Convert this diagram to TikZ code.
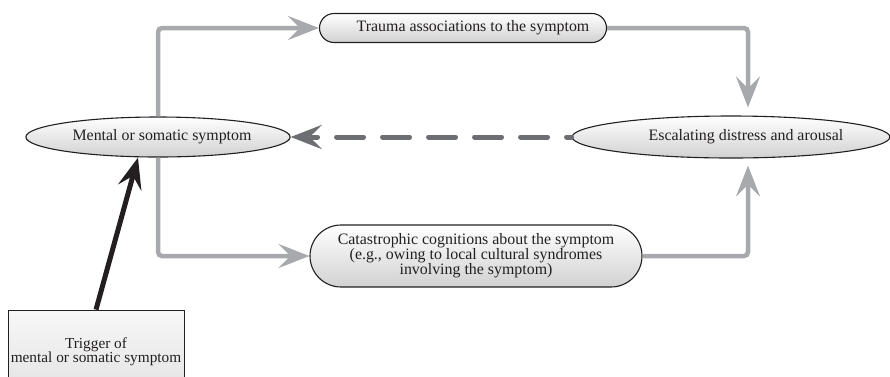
\documentclass[tikz,border=0pt]{standalone}
\usepackage{fontspec}
\setmainfont{Liberation Serif}
\usetikzlibrary{arrows.meta,calc,shapes.geometric}
\definecolor{flowgray}{HTML}{A7A9AC}
\definecolor{dashgray}{HTML}{6D6E71}
\definecolor{ink}{HTML}{231F20}
\newcommand{\txtfont}{\fontsize{15.9pt}{15pt}\selectfont}
\tikzset{
  bubble/.style={ellipse, draw=ink, line width=1.1pt, top color=white,
    bottom color=black!18, inner sep=0pt, font=\txtfont, text=ink},
  pill/.style={rectangle, draw=ink, line width=1.1pt, top color=white,
    bottom color=black!18, inner sep=0pt, font=\txtfont, text=ink, align=center},
  triggerbox/.style={rectangle, draw=ink, line width=0.8pt, top color=black!3,
    bottom color=black!11, inner sep=0pt, font=\txtfont, text=ink, align=center},
  tip/.style={-{Stealth[length=31pt,width=24pt,inset=12pt]}},
  flow/.style={tip, draw=flowgray, line width=4.5pt, rounded corners=4pt},
  backflow/.style={tip, draw=dashgray, line width=5pt, line cap=round,
    dash pattern=on 27pt off 19pt, dash phase=22pt},
  trigflow/.style={tip, draw=ink, line width=5pt}
}
\begin{document}
\begin{tikzpicture}[x=1pt, y=-1pt]
  \useasboundingbox (0,0) rectangle (890,376);
  \clip (0,0) rectangle (890,376);

  % nodes
  \node[bubble, minimum width=223pt, minimum height=40pt] (mental) at (158,137)
    {\hspace*{8pt}Mental or somatic symptom};
  \node[pill, rounded corners=14.5pt, minimum width=287pt, minimum height=29pt] (trauma) at (463,28)
    {\hspace*{20pt}Trauma associations to the symptom};
  \node[bubble, minimum width=316pt, minimum height=42pt] (esc) at (731,137)
    {\hspace*{30pt}Escalating distress and arousal};
  \node[pill, rounded corners=31pt, minimum width=332pt, minimum height=62pt] (cat) at (476,256)
    {Catastrophic cognitions about the symptom\\(e.g., owing to local cultural syndromes\\involving the symptom)};
  \node[triggerbox, minimum width=176pt, minimum height=84pt, font=\fontsize{15.3pt}{14pt}\selectfont] (trigger) at (96,352)
    {Trigger of\\mental or somatic symptom};

  % entry points on the escalating node
  \coordinate (escTop) at ($(esc.north)+(17,0)$);
  \coordinate (escBot) at ($(esc.south)+(17,0)$);
  \coordinate (mentalHit) at ($(mental.south)+(-20,0)$);

  % connectors
  \draw[flow] (mental.north) |- (trauma.west);
  \draw[flow, shorten >=8pt] (trauma.east) -| (escTop);
  \draw[flow] (mental.south) |- (cat.west);
  \draw[flow, shorten >=7pt] (cat.east) -| (escBot);
  \draw[backflow] (esc.west) -- (mental.east);
  \draw[trigflow] (trigger.north) -- (mentalHit);
\end{tikzpicture}
\end{document}
